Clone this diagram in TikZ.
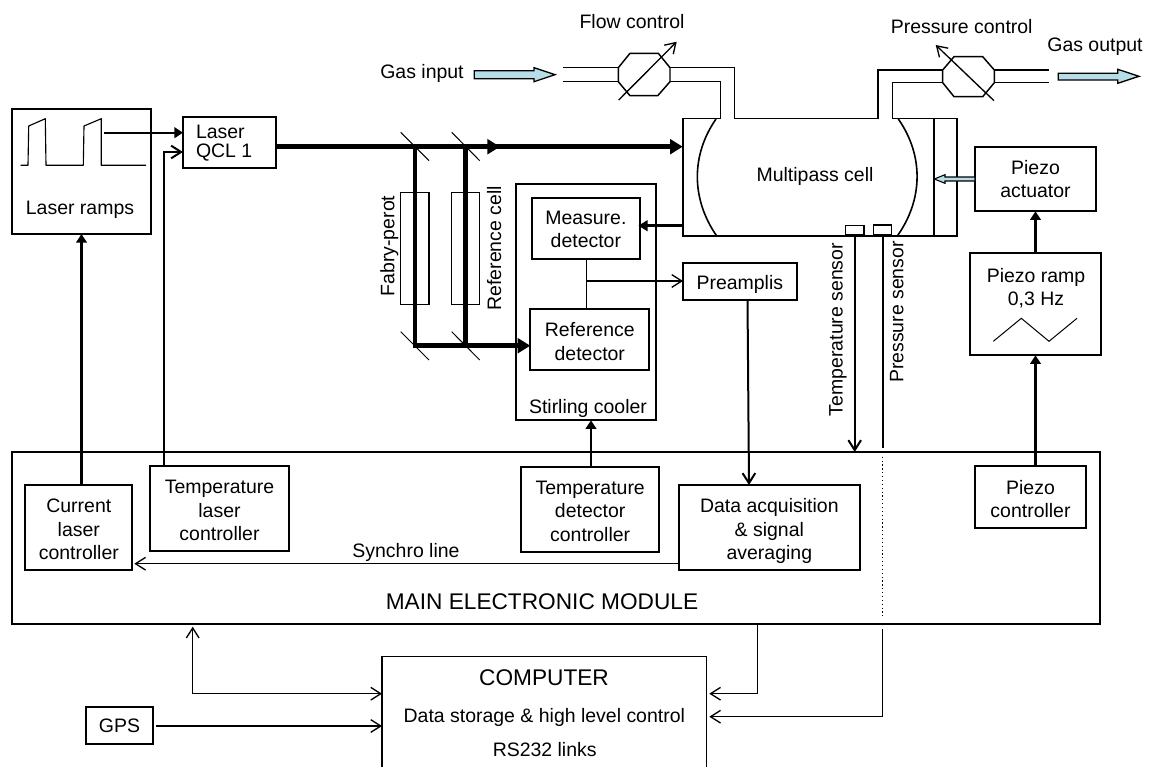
\documentclass[tikz,border=0pt]{standalone}
\usepackage{fontspec}
\setmainfont{Liberation Sans}
\usetikzlibrary{arrows.meta,calc}
\newcommand{\bxr}{13pt}
\newcommand{\bx}[7][]{\node[boxn,#1,minimum width={(#5-#3)*0.75pt},minimum height={(#6-#4)*0.75pt}] (#2) at ({(#3+#5)/2},{(#4+#6)/2}) {\rule{0pt}{\bxr}#7};}
\definecolor{gasblue}{HTML}{B7DEE8}
\tikzset{
  boxn/.style={draw=black,line width=1.5pt,inner sep=0pt,outer sep=0pt,align=center,font=\basefont,text depth=0pt},
  thinbox/.style={line width=0.8pt},
  medbox/.style={line width=1.3pt},
  lbl/.style={inner sep=0pt,outer sep=0pt,align=center,font=\basefont,text height=10.6pt,text depth=0pt},
  lblm/.style={inner sep=0pt,outer sep=0pt,font=\basefont,text depth=0pt},
  bigl/.style={inner sep=0pt,outer sep=0pt,align=center,font=\bigfont,text height=12.2pt,text depth=0pt},
  wire/.style={draw=black,line width=1.0pt},
  solidw/.style={draw=black,line width=1.6pt,-{Triangle[length=6.5pt,width=8pt]}},
  openw/.style={draw=black,line width=1.0pt,-{Straight Barb[length=7.5pt,width=9.5pt,line width=1.0pt]}},
  openwt/.style={draw=black,line width=1.5pt,-{Straight Barb[length=7.5pt,width=9.5pt,line width=1.5pt]}},
  beam/.style={draw=black,line width=3.4pt,line cap=butt},
  beamtip/.style={beam,-{Triangle[length=9.5pt,width=11pt]}},
  mirror/.style={draw=black,line width=0.75pt},
  pipe/.style={draw=black,line width=1.1pt},
  gasarrow/.style={draw=black,line width=1.0pt,fill=gasblue,line join=miter}
}
\newcommand{\basefont}{\fontsize{14.6}{17.6}\selectfont}
\newcommand{\bigfont}{\fontsize{17}{20}\selectfont}
\newcommand{\qclfont}{\fontsize{14.6}{14.25}\selectfont}
\begin{document}
\begin{tikzpicture}[x=0.75pt,y=-0.75pt]
\useasboundingbox (0,0) rectangle (1151,767);
% main module
\bx[line width=1.7pt]{main}{12}{452.3}{1100.3}{623.7}{}
% left
\bx[thinbox]{ramps}{12}{109}{151}{234}{}
\bx[medbox]{qcl}{183}{116.7}{276}{168}{}
\node[lblm,anchor=west,align=left,font=\qclfont] (qcltext) at (196,141.7) {Laser\\QCL 1};
\node[lbl] (rampstext) at (80,207.3) {Laser ramps};
\draw[line width=0.85pt,line join=round] (20.7,165.3) -- (28,165.3) -- (28.7,126) -- (45.3,118.7) -- (46,165.3) -- (83.3,165.3) -- (84,126) -- (101.3,118.7) -- (101.3,165.3) -- (146,165.3);
\coordinate (rampout) at (104.3,132.7);
\draw[solidw] (rampout) -- (qcl.west |- rampout);
% controllers
\bx{cur}{25.3}{485}{132.3}{570}{Current\\laser\\controller}
\bx{templ}{150.3}{466}{288.7}{551.3}{Temperature\\laser\\controller}
\bx{tempd}{521}{466.7}{659.3}{551.7}{Temperature\\detector\\controller}
\bx{data}{678.7}{485}{860}{570}{Data acquisition\\\& signal\\averaging}
\bx{piezoc}{975}{466}{1086}{528.3}{Piezo\\controller}
\draw[solidw] (ramps.south |- cur.north) -- (ramps.south);
\coordinate (tlk) at (163.5,152);
\draw[openwt] (templ.north -| tlk) -- (tlk) -- (qcl.west |- tlk);
\coordinate (syn) at (678.7,563.7);
\draw[openw] (syn) -- (134.3,563.7) coordinate (synend);
\node[lbl] (synchro) at (406,550) {Synchro line};
\node[bigl] (maintext) at (542,601.7) {MAIN ELECTRONIC MODULE};
% cell
\coordinate (c1) at (720.5,118.5);
\coordinate (c2) at (734.7,118.5);
\coordinate (c3) at (878,118.5);
\coordinate (c4) at (892.3,118.5);
\node[inner sep=0pt,outer sep=0pt,minimum width={274*0.75pt},minimum height={117.5*0.75pt}] (cell) at (819.7,177.25) {};
\node[lbl] (celltext) at (815,174.3) {Multipass cell};
\draw[pipe,line width=1.4pt] (c1) -- (682.7,118.5) -- (682.7,236) -- (956.7,236) -- (956.7,118.5) -- (c4);
\draw[pipe,line width=1.4pt] (c2) -- (c3);
\draw[line width=1.4pt] (933.7,118.5) -- (933.7,236);
\draw[line width=1.2pt] (716,119) .. controls (691,155) and (691,199) .. (716.7,236);
\draw[line width=1.2pt] (898.3,119) .. controls (923.5,155) and (923.5,199) .. (897.3,236);
% flow valve
\draw[pipe,fill=white] (618.3,67.7) -- (630,53.3) -- (658.3,53.3) -- (670,67.7) -- (670,81.7) -- (657.7,95.7) -- (630,95.7) -- (618.3,81.7) -- cycle;
\coordinate (fvul) at (618.3,67.7); \coordinate (fvll) at (618.3,81.7);
\coordinate (fvur) at (670,67.7); \coordinate (fvlr) at (670,81.7);
\draw[pipe] (562.7,67.7) -- (fvul);
\draw[pipe] (562.7,81.7) -- (fvll);
\draw[pipe] (fvur) -- (c2 |- fvur) -- (c2);
\draw[pipe] (fvlr) -- (c1 |- fvlr) -- (c1);
\draw[openw] (618.7,100) -- (676.7,41.7);
% pressure valve
\draw[pipe,fill=white] (942.7,70) -- (954,56.7) -- (982.7,56.7) -- (994.3,70) -- (994.3,82.7) -- (982.7,96.7) -- (954,96.7) -- (942.7,82.7) -- cycle;
\coordinate (pvul) at (942.7,70); \coordinate (pvll) at (942.7,82.7);
\coordinate (pvur) at (994.3,70); \coordinate (pvlr) at (994.3,82.7);
\draw[pipe] (c3) -- (c3 |- pvul) -- (pvul);
\draw[pipe] (c4) -- (c4 |- pvll) -- (pvll);
\draw[pipe] (pvur) -- (1049.3,70);
\draw[pipe] (pvlr) -- (1049.3,82.7);
\draw[openw] (994,100.7) -- (935.7,45);
% gas arrows
\draw[gasarrow] (474.3,70.7) -- (534,70.7) -- (534,67.7) -- (555,74.7) -- (534,81.7) -- (534,78.7) -- (474.3,78.7) -- cycle;
\draw[gasarrow] (1058.3,73.3) -- (1117.7,73.3) -- (1117.7,69.3) -- (1139,76.3) -- (1117.7,83.3) -- (1117.7,80) -- (1058.3,80) -- cycle;
\node[lbl] (flow) at (632,21.3) {Flow control};
\node[lbl] (gasin) at (422,71.5) {Gas input};
\node[lbl] (press) at (961.7,26.3) {Pressure control};
\node[lbl] (gasout) at (1095,44.3) {Gas output};
% optics
\bx[thinbox]{fp}{400.7}{192.7}{429}{304.7}{}
\bx[thinbox]{rc}{451.7}{192.7}{479.7}{304.7}{}
\node[lbl,rotate=90] (fptext) at (387.3,246) {Fabry-perot};
\node[lbl,rotate=90] (rctext) at (494,248.3) {Reference cell};
\coordinate (m1) at (415,146.7);
\coordinate (m2) at (465.7,146.7);
\coordinate (m3) at (415,345.7);
\coordinate (m4) at (465.7,345.7);
\coordinate (bmid) at (500,146.7);
\coordinate (qclout) at (276,146.7);
\draw[mirror] (400.7,132.3) -- (429,160.7);
\draw[mirror] (451.7,132.3) -- (479.7,160.7);
\draw[mirror] (400.7,331.7) -- (429,360);
\draw[mirror] (451.7,331.7) -- (479.7,360);
\draw[beamtip] ($(bmid)+(-4,0)$) -- (cell.west |- bmid);
\draw[beamtip] (qclout) -- (bmid);
\draw[beam] (m1) -- (m3);
\draw[beam] (m2) -- (m4);
% stirling
\bx[medbox]{stirling}{516.3}{183.7}{656}{420.3}{}
\node[lbl] (stirtext) at (588,406) {Stirling cooler};
\renewcommand{\bxr}{11.5pt}
\bx{meas}{531.7}{198}{640}{259}{Measure.\\detector}
\renewcommand{\bxr}{13pt}
\bx{refd}{530.3}{309}{649.3}{370.3}{Reference\\detector}
\draw[beamtip,line cap=butt] ($(m3)+(-1.7,0)$) -- (refd.west |- m3);
\coordinate (cellout) at (682.7,225.7);
\draw[draw=black,line width=2.2pt,-{Triangle[length=7pt,width=8pt]}] (cellout) -- (638.3,225.7);
\coordinate (mdx) at (586.3,281);
\draw[wire] (meas.south -| mdx) -- (refd.north -| mdx);
\bx[line width=1.5pt]{pre}{683}{262.5}{796.7}{300}{Preamplis}
\draw[openw] (mdx) -- (pre.west |- mdx);
\draw[openwt] (747.5,300) -- (749,485);
\draw[solidw] (591,466.7) -- (591,420.3);
% sensors
\renewcommand{\bxr}{0pt}
\bx[thinbox,fill=white]{ts}{845.7}{225.7}{864}{234.3}{}
\bx[thinbox,fill=white]{ps}{873.3}{225}{891.7}{234.3}{}
\node[lbl,rotate=90] (tstext) at (835.5,329.5) {Temperature sensor};
\node[lbl,rotate=90] (pstext) at (896.3,312) {Pressure sensor};
\draw[openwt] (854.7,234.3) -- (854.7,452);
\draw[line width=1.3pt] (882.7,234.3) -- (882.7,447.7);
\draw[line width=0.9pt,dotted] (882.7,456.7) -- (882.7,618);
% piezo
\bx{piezoa}{975}{146.7}{1096}{211.3}{Piezo\\actuator}
\renewcommand{\bxr}{13pt}
\bx{piezor}{970.3}{253.3}{1100.7}{355.3}{}
\node[lblm,align=center] (piezortext) at (1036,287) {Piezo ramp\\0,3 Hz};
\draw[line width=0.75pt] (993.3,341.3) -- (1021.3,318.3) -- (1049,341.3) -- (1077,318.3);
\draw[solidw] (piezoa.south |- piezor.north) -- (piezoa.south);
\draw[solidw] (piezoa.south |- piezoc.north) -- (piezoa.south |- piezor.south);
\draw[gasarrow,line width=0.8pt] (975,177) -- (945,177) -- (945,174.7) -- (934.3,179) -- (945,183.3) -- (945,181) -- (975,181) -- cycle;
% computer
\node[inner sep=0pt,outer sep=0pt,minimum width={324.7*0.75pt},minimum height={110.3*0.75pt}] (comp) at (544.35,711.85) {};
\draw[line width=0.85pt] (comp.south west) -- (comp.north west) -- (comp.north east) -- (comp.south east);
\node[bigl] (comptext) at (544,677.7) {COMPUTER};
\node[lbl] (comptext2) at (544.3,715.3) {Data storage \& high level control};
\node[lbl] (comptext3) at (544.7,749.7) {RS232 links};
\renewcommand{\bxr}{10.6pt}
\bx[medbox]{gps}{86}{707.3}{153}{744.3}{GPS}
\coordinate (gpsout) at (155.7,726);
\draw[openw] (gpsout) -- (comp.west |- gpsout);
\coordinate (ml) at (192.7,693.7);
\draw[draw=black,line width=1.0pt,{Straight Barb[length=7.5pt,width=9.5pt,line width=1.0pt]}-{Straight Barb[length=7.5pt,width=9.5pt,line width=1.0pt]}] (192.7,626.7) -- (ml) -- (comp.west |- ml);
\coordinate (mr) at (757.7,693.7);
\draw[openw] (main.south -| mr) -- (mr) -- (709.3,693.7);
\coordinate (pr) at (882.7,716.7);
\draw[openw] (882.7,629) -- (pr) -- (709.3,716.7);
\end{tikzpicture}
\end{document}
